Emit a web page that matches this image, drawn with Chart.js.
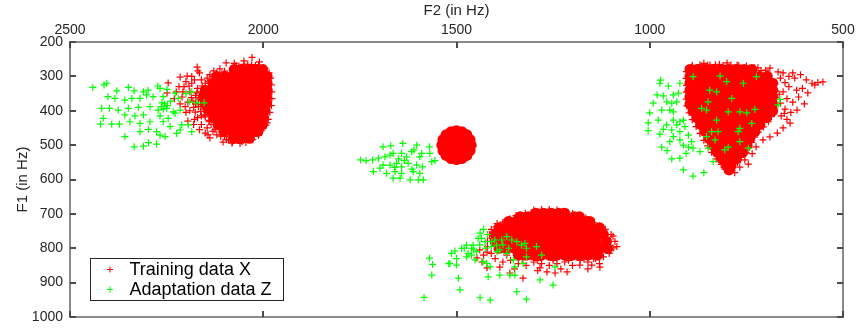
<!DOCTYPE html>
<html>
<head>
<meta charset="utf-8">
<script src="https://cdn.jsdelivr.net/npm/chart.js@4.4.1/dist/chart.umd.min.js"></script>
<style>
  html, body { margin: 0; padding: 0; background: #fff; }
  #wrap { width: 859px; height: 329px; }
</style>
</head>
<body>
<div id="wrap"><canvas id="formants" width="859" height="329"></canvas></div>
<script>
// Axis ticks (Hz)
const f2Ticks = [2500, 2000, 1500, 1000, 500];
const f1Ticks = [200, 300, 400, 500, 600, 700, 800, 900, 1000];

// Training data X: solid cores, one row per F1 value -> list of F2 values
const trainCoreA = [
    [280, [2075, 2055, 2035, 2015, 2002]],
    [300, [2120, 2100, 2080, 2060, 2040, 2020, 2000, 1990]],
    [320, [2130, 2110, 2090, 2070, 2050, 2030, 2010, 1990]],
    [340, [2150, 2130, 2110, 2090, 2070, 2050, 2030, 2010, 1990]],
    [360, [2155, 2135, 2115, 2095, 2075, 2055, 2035, 2015, 1992]],
    [380, [2150, 2130, 2110, 2090, 2070, 2050, 2030, 2010, 1992]],
    [400, [2140, 2120, 2100, 2080, 2060, 2040, 2020, 1996]],
    [420, [2128, 2108, 2088, 2068, 2048, 2028, 2008, 2000]],
    [440, [2117, 2097, 2077, 2057, 2037, 2017, 2003]],
    [460, [2102, 2082, 2062, 2042, 2022, 2014]],
    [480, [2076, 2056, 2036]]
];
const trainCoreB = [
    [458, [1500]],
    [461, [1486, 1514]],
    [470, [1473, 1527]],
    [478, [1500]],
    [484, [1465, 1535]],
    [485, [1486, 1514]],
    [500, [1462, 1481, 1500, 1519, 1538]],
    [515, [1486, 1514]],
    [516, [1465, 1535]],
    [522, [1500]],
    [530, [1473, 1527]],
    [539, [1486, 1514]],
    [542, [1500]]
];
const trainCoreC = [
    [698, [1295, 1275, 1255, 1235, 1220]],
    [708, [1335, 1315, 1295, 1275, 1255, 1235, 1215, 1195, 1182]],
    [722, [1365, 1345, 1325, 1305, 1285, 1265, 1245, 1225, 1205, 1185, 1165, 1155]],
    [740, [1390, 1370, 1350, 1330, 1310, 1290, 1270, 1250, 1230, 1210, 1190, 1170, 1150, 1130]],
    [760, [1400, 1380, 1360, 1340, 1320, 1300, 1280, 1260, 1240, 1220, 1200, 1180, 1160, 1140, 1120]],
    [780, [1400, 1380, 1360, 1340, 1320, 1300, 1280, 1260, 1240, 1220, 1200, 1180, 1160, 1140, 1112]],
    [800, [1390, 1370, 1350, 1330, 1310, 1290, 1270, 1250, 1230, 1210, 1190, 1170, 1150, 1130, 1110]],
    [820, [1340, 1320, 1300, 1280, 1260, 1240, 1220, 1200, 1180, 1160, 1135]]
];
const trainCoreD = [
    [280, [896, 876, 856, 836, 816, 796, 776, 756, 736]],
    [300, [896, 876, 856, 836, 816, 796, 776, 756, 736, 716, 696]],
    [320, [896, 876, 856, 836, 816, 796, 776, 756, 736, 716, 696, 682]],
    [340, [896, 876, 856, 836, 816, 796, 776, 756, 736, 716, 696, 682]],
    [360, [896, 876, 856, 836, 816, 796, 776, 756, 736, 716, 696, 682]],
    [380, [896, 876, 856, 836, 816, 796, 776, 756, 736, 716, 696, 682]],
    [400, [888, 868, 848, 828, 808, 788, 768, 748, 728, 708, 690, 682]],
    [420, [878, 858, 838, 818, 798, 778, 758, 738, 718, 698]],
    [440, [868, 848, 828, 808, 788, 768, 748, 728, 715]],
    [460, [857, 837, 817, 797, 777, 757, 737, 728]],
    [480, [847, 827, 807, 787, 767, 747, 741]],
    [500, [837, 817, 797, 777, 757, 749]],
    [520, [826, 806, 786, 766, 759]],
    [540, [813, 795, 776]],
    [560, [800, 790]],
    [572, [795]]
];

// Training data X: loose points round the cores, [F2, F1]
const trainFringeA = [[2029,245],[2096,261],[2063,270],[2171,273],[2169,284],[2197,299],[2215,302],[2246,319],[2249,348],
    [2143,470],[2138,479],[2104,491],[2081,494],[2065,485],[2042,479],[2205,330],[2190,345],[2210,360],[2195,375],
    [2180,390],[2200,405],[2185,320],[2170,335],[2175,355],[2190,400],[2170,420],[2160,440],[2180,440],[2165,455],
    [2150,465],[2215,380],[2200,315],[2185,300],[2160,310],[2165,290],[2225,345],[2230,365],[2195,430],[2175,380],
    [2160,370],[2155,395],[2160,415],[2145,450],[2130,460],[2120,470],[2100,475],[2090,485],[2025,470],[2010,460],
    [2000,450],[1990,435],[2055,490],[2035,480],[2100,285],[2080,280],[2120,290],[2040,265],[2020,268],[2000,275],
    [1985,290],[2010,258],[2050,255],[2075,262],[2145,305],[2150,320],[2135,440],[2125,455],[2178,310],[2192,328],
    [2172,348],[2186,362],[2168,366],[2182,372],[2168,388],[2176,404],[2162,402],[2150,418],[2178,425],[2140,432],
    [2202,388],[2208,345],[2218,330],[2158,328],[2138,295],[2128,284],[2112,278],
    [2070,268],[2050,265],[2030,266],[2012,268],[1995,276],[1981,305],[1979,325],[1978,345],[1978,365],[1979,385],
    [1983,405],[1987,425],[1993,442],[2003,456],[2080,492],[2060,495],[2045,492],[2027,484],[2012,472],[2095,484],
    [2110,474],[2132,300],[2142,316],[2162,345],[2165,362],[2161,382],[2153,412],[2140,428]];
const trainFringeC = [[1095,799],[1129,855],[1150,849],[1181,849],[1214,869],[1245,872],[1266,869],[1284,857],[1328,887],
    [1362,872],[1388,855],[1421,857],[1434,840],[1447,828],[1421,811],[1400,830],[1380,840],[1360,835],[1340,845],
    [1320,850],[1300,840],[1280,845],[1260,850],[1240,845],[1220,840],[1200,850],[1180,835],[1160,840],[1140,830],
    [1120,825],[1105,815],[1100,805],[1370,820],[1310,825],[1250,830],[1190,825],[1410,815],[1430,820],[1420,795],
    [1440,805],[1350,860],[1290,865],[1230,860],[1160,860],[1130,845],[1085,795],[1090,780],[1095,765],[1300,695],
    [1210,700],[1350,712],[1395,728],[1410,745],[1415,760],[1420,780],[1165,712],[1130,735],[1115,745],
    [1100,760],[1300,689],[1280,687],[1260,687],[1240,689],[1225,692],[1322,698],[1200,699],[1346,705],[1180,706],
    [1362,714],[1160,716],[1380,724],[1144,726],[1398,738],[1126,738],[1110,772],[1408,772],[1104,792],
    [1330,832],[1290,835],[1250,835],[1210,835],[1170,832],[1145,830]];
const trainFringeD = [[655,290],[640,300],[625,305],[610,295],[595,310],[580,320],[565,318],[552,316],[573,325],
    [591,348],[605,335],[620,340],[640,330],[655,345],[645,365],[630,375],[615,360],[600,380],[619,398],[635,405],
    [650,395],[660,415],[645,425],[637,436],[655,450],[670,465],[689,476],[707,485],[630,290],[668,287],[689,276],
    [774,267],[800,261],[844,267],[891,273],[860,262],[820,265],[720,275],[700,282],[767,564],[754,543],[745,555],
    [780,580],[735,525],[725,505],[662,305],[650,318],[665,352],[662,378],[652,408],
    [890,268],[870,266],[850,267],[830,266],[810,268],[790,267],[770,268],[750,270],[730,274],[712,283],[694,291],
    [676,322],[674,342],[675,362],[676,382],[677,402],[685,417],[693,432],[706,447],[719,462],[729,477],[736,492],
    [743,507],[751,522],[763,536],[773,551],[905,286],[906,306],[905,326],[906,346],[905,366],[904,386],[898,406],
    [890,426],[880,446],[870,466],[860,486],[850,502],[840,521],[828,540],[815,556],[806,570]];

// Adaptation data Z, [F2, F1]
const adaptG1 = [[2441,332],[2405,320],[2412,325],[2379,342],[2349,332],[2334,342],[2310,345],[2298,340],[2273,328],
    [2267,335],[2249,338],[2402,359],[2384,364],[2358,369],[2340,364],[2319,364],[2302,354],[2285,359],[2259,359],
    [2228,349],[2220,364],[2190,374],[2172,377],[2153,377],[2418,393],[2398,393],[2375,398],[2349,393],[2323,390],
    [2293,388],[2272,398],[2263,388],[2250,393],[2233,403],[2215,398],[2414,422],[2358,412],[2332,415],[2310,412],
    [2267,415],[2246,422],[2228,407],[2421,439],[2392,439],[2372,439],[2345,432],[2319,437],[2293,432],[2259,432],
    [2241,446],[2211,441],[2194,441],[2215,456],[2185,461],[2358,475],[2319,461],[2297,454],[2276,461],[2267,471],
    [2254,475],[2224,466],[2334,505],[2310,503],[2297,493],[2276,497],[2255,380],[2248,385],[2262,377],[2240,372],
    [2258,395],[2200,350],[2185,345]];
const adaptG2 = [[1690,505],[1670,502],[1639,495],[1603,500],[1570,505],[1748,543],[1734,545],[1717,543],[1702,538],
    [1685,534],[1672,529],[1664,524],[1642,524],[1629,534],[1616,519],[1610,514],[1590,524],[1569,524],[1595,534],
    [1564,548],[1556,545],[1690,558],[1672,558],[1655,553],[1642,563],[1625,553],[1603,558],[1588,563],[1715,577],
    [1681,582],[1659,577],[1642,582],[1612,577],[1595,582],[1664,596],[1646,596],[1620,601],[1599,601],[1586,601],
    [1698,567],[1650,540],[1635,545],[1660,565],[1615,570]];
const adaptG3 = [[972,311],[974,320],[952,328],[981,354],[965,357],[939,354],[926,349],[922,320],[991,378],[956,374],
    [943,378],[930,374],[969,398],[948,398],[939,403],[1000,406],[978,427],[939,427],[922,432],[913,427],[1004,435],
    [956,441],[930,441],[909,446],[1004,458],[965,454],[943,456],[922,461],[900,471],[974,468],[939,475],[922,485],
    [892,490],[948,490],[969,506],[955,516],[913,500],[900,506],[888,509],[870,519],[943,540],[922,538],[906,524],
    [913,572],[888,590],[860,580],[836,548],[845,340],[827,345],[849,374],[866,393],[853,398],[788,364],[797,403],
    [767,403],[749,406],[728,396],[827,427],[888,301],[818,299],[801,315],[758,320],[724,301],[663,367],[668,383],
    [767,451],[771,461],[736,437],[840,461],[823,461],[853,475],[831,485],[806,514],[797,506],[767,490],[745,509],
    [849,509]];
const adaptG4 = [[1570,829],[1562,847],[1564,878],[1584,943],[1513,815],[1504,808],[1487,800],[1474,791],[1517,844],
    [1500,849],[1474,825],[1461,820],[1495,887],[1491,921],[1439,756],[1435,771],[1444,771],[1426,781],[1409,781],
    [1401,776],[1383,776],[1370,766],[1357,776],[1344,781],[1323,786],[1319,800],[1293,795],[1452,834],[1431,839],
    [1413,854],[1388,805],[1370,815],[1353,834],[1349,854],[1327,844],[1319,825],[1388,878],[1362,878],[1349,878],
    [1418,883],[1422,844],[1280,820],[1284,892],[1250,907],[1245,854],[1344,926],[1319,948],[1439,944],[1413,951],
    [1461,800],[1448,810],[1396,791],[1332,791],[1457,791],[1480,800],[1470,815],[1455,805],[1440,790],[1425,800],
    [1410,795],[1395,810],[1380,790],[1365,800],[1420,760],[1430,745],[1500,830],[1520,845]];

const rowsToPoints = rows => rows.flatMap(([f1, f2s]) => f2s.map(f2 => ({ x: f2, y: f1 })));
const pairsToPoints = pairs => pairs.map(([f2, f1]) => ({ x: f2, y: f1 }));

const RED = '#ff0000';
const GREEN = '#00ff00';
const BOX = '#8a8a8a';
const TICK = '#4a4a4a';
const TEXT = '#262626';
const FONT = "'Liberation Sans', Arial, Helvetica, sans-serif";

// box, inward tick marks on all four sides, and the boxed legend
const decor = {
    id: 'decor',
    afterDraw(chart) {
        const { ctx, chartArea: a, scales } = chart;
        const xs = scales.x, ys = scales.y;
        const L = Math.round(a.left), R = Math.round(a.right);
        const T = Math.round(a.top), B = Math.round(a.bottom);
        const len = 6;
        ctx.save();
        // 2px frame, like the antialiased axes of the original
        ctx.fillStyle = BOX;
        ctx.fillRect(L - 1, T - 1, R - L + 2, 2);
        ctx.fillRect(L - 1, B - 1, R - L + 2, 2);
        ctx.fillRect(L - 1, T - 1, 2, B - T + 2);
        ctx.fillRect(R - 1, T - 1, 2, B - T + 2);
        ctx.fillStyle = TICK;
        f2Ticks.forEach(v => {
            const px = Math.round(xs.getPixelForValue(v));
            ctx.fillRect(px - 1, T, 2, len);
            ctx.fillRect(px - 1, B - len, 2, len);
        });
        f1Ticks.forEach(v => {
            const py = Math.round(ys.getPixelForValue(v));
            ctx.fillRect(L, py - 1, len, 2);
            ctx.fillRect(R - len, py - 1, len, 2);
        });

        // legend
        const entries = chart.data.datasets.filter(d => d.legendRank).sort((p, q) => p.legendRank - q.legendRank);
        const left = L + 20.5, top = B - 58.5;
        const w = 193, h = 42;
        ctx.fillStyle = '#fff';
        ctx.fillRect(left, top, w, h);
        ctx.strokeStyle = TEXT;
        ctx.lineWidth = 1;
        ctx.strokeRect(left, top, w, h);
        ctx.font = '18px ' + FONT;
        ctx.textBaseline = 'middle';
        entries.forEach((d, i) => {
            const cy = top + 11 + i * 20;
            const cx = left + 19.5;
            ctx.strokeStyle = d.borderColor;
            ctx.beginPath();
            ctx.moveTo(cx - 3, cy); ctx.lineTo(cx + 3, cy);
            ctx.moveTo(cx, cy - 3); ctx.lineTo(cx, cy + 3);
            ctx.stroke();
            ctx.fillStyle = '#000';
            ctx.fillText(d.label, left + 39, cy + 1);
        });
        ctx.restore();
    }
};

const crossStyle = { pointStyle: 'cross', pointRadius: 3.5, pointHoverRadius: 3.5, borderWidth: 1.2, showLine: false };

new Chart(document.getElementById('formants'), {
    type: 'scatter',
    data: {
        datasets: [
            {
                label: 'Adaptation data Z', legendRank: 2, order: 0,
                data: pairsToPoints([...adaptG1, ...adaptG2, ...adaptG3, ...adaptG4]),
                borderColor: GREEN, backgroundColor: GREEN, ...crossStyle
            },
            {
                label: 'Training data X', legendRank: 1, order: 1,
                data: pairsToPoints([...trainFringeA, ...trainFringeC, ...trainFringeD]),
                borderColor: RED, backgroundColor: RED, ...crossStyle
            },
            {
                label: 'Training data X (dense)', legendRank: 0, order: 2,
                data: rowsToPoints([...trainCoreA, ...trainCoreB, ...trainCoreC, ...trainCoreD]),
                pointStyle: 'circle', pointRadius: 5.5, pointHoverRadius: 5.5,
                backgroundColor: RED, borderColor: RED, borderWidth: 0, showLine: false
            }
        ]
    },
    options: {
        responsive: false,
        animation: false,
        events: [],
        layout: { padding: { left: 0, top: 0, right: 16, bottom: 12 } },
        plugins: { legend: { display: false }, tooltip: { enabled: false } },
        scales: {
            x: {
                type: 'linear', position: 'top', reverse: true, min: 500, max: 2500,
                afterFit(s) { s.height = 42; s.paddingLeft = 0; s.paddingRight = 0; },
                grid: { display: false, drawTicks: false },
                border: { display: false },
                ticks: { stepSize: 500, padding: 3, color: TEXT, font: { family: FONT, size: 14 }, maxRotation: 0,
                         callback: v => String(v) },
                title: { display: true, text: 'F2 (in Hz)', color: TEXT, font: { family: FONT, size: 15 }, padding: { top: 2, bottom: 0 } }
            },
            y: {
                type: 'linear', reverse: true, min: 200, max: 1000,
                afterFit(s) { s.width = 70; s.paddingTop = 0; s.paddingBottom = 0; },
                grid: { display: false, drawTicks: false },
                border: { display: false },
                ticks: { stepSize: 100, padding: 7, color: TEXT, font: { family: FONT, size: 14 },
                         callback: v => String(v) },
                title: { display: true, text: 'F1 (in Hz)', color: TEXT, font: { family: FONT, size: 15 }, padding: { top: 14, bottom: 0 } }
            }
        }
    },
    plugins: [decor]
});
</script>
</body>
</html>
